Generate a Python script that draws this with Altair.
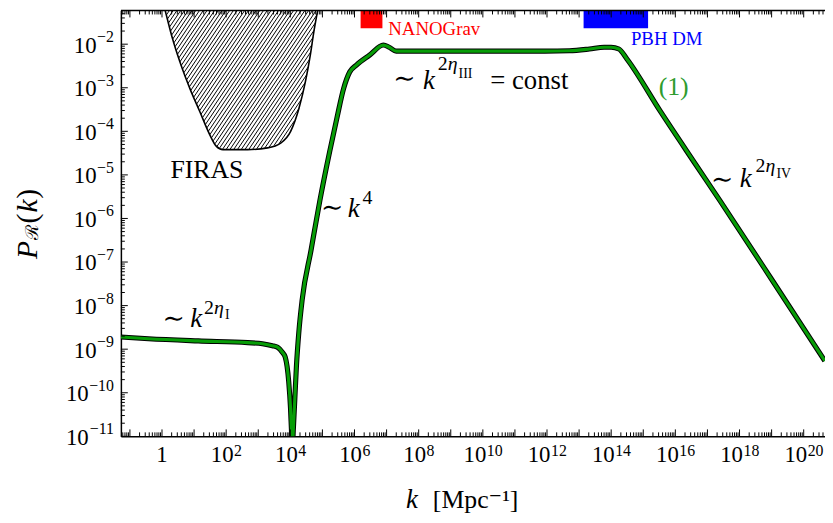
import numpy as np
import pandas as pd
import altair as alt

# ---------------- axis ranges (log10 units) ----------------
LK_MIN, LK_MAX = -1.281, 20.664
LP_MIN, LP_MAX = -11.0, -1.227
W, H = 711, 430

# ---------------- curve (1): log10 k, log10 P_R ----------------
curve_lk = [-1.28, -0.42, 1.13, 2.67, 3.13, 3.44, 3.60, 3.75, 3.84, 3.95, 4.006, 4.037,
            4.065, 4.09, 4.14, 4.19, 4.265, 4.37, 4.645, 4.92, 5.23, 5.45, 5.66, 5.85,
            6.06, 6.47, 6.90, 7.08, 7.30, 8.84, 10.39, 11.93, 12.70, 13.32, 13.78, 14.0,
            14.24, 14.49, 15.54, 16.56, 17.39, 19.03, 20.66]
curve_lp = [-8.72, -8.76, -8.81, -8.85, -8.875, -8.92, -8.955, -9.07, -9.18, -9.75, -10.36, -10.89,
            -11.27, -10.89, -10.14, -9.39, -8.61, -7.86, -6.73, -5.59, -4.45, -3.70, -3.02, -2.64,
            -2.48, -2.25, -2.02, -2.07, -2.16, -2.16, -2.16, -2.16, -2.15, -2.11, -2.07, -2.07,
            -2.11, -2.34, -3.55, -4.68, -5.59, -7.43, -9.27]

# ---------------- FIRAS exclusion boundary ----------------
firas_lk = [0.02, 0.10, 0.30, 0.56, 0.87, 1.18, 1.49, 1.69, 1.90, 2.67, 3.29, 3.70, 4.01,
            4.27, 4.47, 4.62, 4.73, 4.85, 4.905]
firas_lp = [-1.0, -1.23, -1.80, -2.41, -3.02, -3.55, -4.08, -4.34, -4.42, -4.42, -4.38, -4.27,
            -4.0, -3.47, -2.86, -2.26, -1.73, -1.23, -1.0]

# ---------------- bands at top ----------------
band_name = ["NANOGrav", "PBH DM"]
band_lk1 = [6.19, 13.14]
band_lk2 = [6.87, 15.15]
band_lp_bottom = [-1.636, -1.636]
band_color = ["#ff0000", "#0000ff"]

# ---------------- tick labels (exponents of 10) ----------------
x_label_exp = list(range(0, 21, 2))
y_label_exp = list(range(-11, -1))

# ---------------- annotations: text, log10 k, log10 P, size, color, italic, angle ----------------
ann = [
    ("∼", 7.207, -2.977, 27, "black", False, 0),
    ("k", 8.133, -3.023, 27, "black", True, 0),
    ("2", 8.596, -2.591, 20, "black", False, 0),
    ("η", 8.904, -2.591, 20, "black", True, 0),
    ("III", 9.244, -2.773, 14, "black", False, 0),
    ("= const", 10.231, -3.023, 27, "black", False, 0),
    ("∼", 4.954, -5.932, 27, "black", False, 0),
    ("k", 5.786, -5.955, 27, "black", True, 0),
    ("4", 6.249, -5.659, 20, "black", False, 0),
    ("∼", 0.015, -8.50, 27, "black", False, 0),
    ("k", 0.88, -8.50, 27, "black", True, 0),
    ("2", 1.312, -8.182, 20, "black", False, 0),
    ("η", 1.62, -8.182, 20, "black", True, 0),
    ("I", 1.96, -8.318, 14, "black", False, 0),
    ("∼", 17.11, -5.295, 27, "black", False, 0),
    ("k", 18.01, -5.273, 27, "black", True, 0),
    ("2", 18.50, -4.932, 20, "black", False, 0),
    ("η", 18.81, -4.932, 20, "black", True, 0),
    ("IV", 19.15, -5.068, 14, "black", False, 0),
    ("(1)", 15.48, -3.17, 26, "#2e9c2e", False, 0),
    ("FIRAS", 0.262, -5.068, 26, "black", False, 0),
    ("NANOGrav", 7.052, -1.795, 19, "#ff0000", False, 0),
    ("PBH DM", 14.614, -2.023, 19, "#0000ff", False, 0),
    ("k", 7.608, -12.64, 27, "black", True, 0),
    ("[Mpc⁻¹]", 8.441, -12.64, 26, "black", False, 0),
    ("P", -3.904, -6.932, 30, "black", True, 270),
    ("ℛ", -3.85, -6.50, 18, "black", False, 270),
    ("(", -3.904, -6.114, 30, "black", False, 270),
    ("k", -3.904, -5.864, 30, "black", True, 270),
    (")", -3.904, -5.545, 30, "black", False, 270),
]

FONT = "Liberation Serif, 'DejaVu Serif', serif"
LAB = 23      # tick label size
EXP = 16      # exponent size

# ---------------- data frames ----------------
curve_df = pd.DataFrame({"k": 10.0 ** np.array(curve_lk), "P": 10.0 ** np.array(curve_lp)})
firas_df = pd.DataFrame({"k": 10.0 ** np.array(firas_lk), "P": 10.0 ** np.array(firas_lp)})
band_df = pd.DataFrame({
    "name": band_name,
    "k": 10.0 ** np.array(band_lk1), "k2": 10.0 ** np.array(band_lk2),
    "P": 10.0 ** np.array(band_lp_bottom), "P2": [0.2, 0.2], "color": band_color,
})
ann_df = pd.DataFrame(ann, columns=["text", "lk", "lp", "size", "color", "italic", "angle"])
ann_df["k"] = 10.0 ** ann_df["lk"]
ann_df["P"] = 10.0 ** ann_df["lp"]

# hatch lines inside FIRAS region (decoration)
Xb = (np.array(firas_lk) - LK_MIN) / (LK_MAX - LK_MIN) * W
Yb = (np.array(firas_lp) - LP_MIN) / (LP_MAX - LP_MIN) * H
Xg = np.linspace(Xb[0], Xb[-1], 4000)
fg = np.interp(Xg, Xb, Yb)
tn = np.tan(np.radians(56))
segs = []
c = Xb[0] - (H + 5) / tn - 5
while c < Xb[-1] + 5:
    Yl = tn * (Xg - c)
    inside = (Yl >= fg) & (Yl <= H + 3)
    if inside.any():
        idx = np.where(inside)[0]
        xa, xb = Xg[idx[0]], Xg[idx[-1]]
        segs.append((xa, tn * (xa - c), xb, tn * (xb - c)))
    c += 3.8
segs = np.array(segs)


def px2k(Xp):
    return 10.0 ** (LK_MIN + Xp / W * (LK_MAX - LK_MIN))


def py2p(Yp):
    return 10.0 ** (LP_MIN + Yp / H * (LP_MAX - LP_MIN))


hatch_df = pd.DataFrame({"k": px2k(segs[:, 0]), "P": py2p(segs[:, 1]),
                         "k2": px2k(segs[:, 2]), "P2": py2p(segs[:, 3])})

# tick positions (log minor ticks)
xt_major, xt_minor, yt_major, yt_minor = [], [], [], []
for e in range(-2, 22):
    for m in range(1, 10):
        v = m * 10.0 ** e
        if LK_MIN <= np.log10(v) <= LK_MAX:
            (xt_major if m == 1 else xt_minor).append(v)
for e in range(-12, 0):
    for m in range(1, 10):
        v = m * 10.0 ** e
        if LP_MIN - 1e-9 <= np.log10(v) <= LP_MAX:
            (yt_major if m == 1 else yt_minor).append(v)

# ---------------- scales & axes ----------------
xscale = alt.Scale(type="log", domain=[10 ** LK_MIN, 10 ** LK_MAX], nice=False)
yscale = alt.Scale(type="log", domain=[10 ** LP_MIN, 10 ** LP_MAX], nice=False)

xaxis = alt.Axis(labels=False, ticks=False, grid=False, title=None, domain=True,
                 domainColor="black", domainWidth=1.5)
yaxis = alt.Axis(labels=False, ticks=False, grid=False, title=None, domain=True,
                 domainColor="black", domainWidth=1.5)

X = alt.X("k:Q", scale=xscale, axis=xaxis)
Y = alt.Y("P:Q", scale=yscale, axis=yaxis)

base_curve = alt.Chart(curve_df)
curve_black = base_curve.mark_line(color="black", strokeWidth=5.2, interpolate="monotone",
                                   clip=True).encode(x=X, y=Y)
curve_green = base_curve.mark_line(color="#079d07", strokeWidth=3.2, interpolate="monotone",
                                   clip=True).encode(x=X, y=Y)

hatch = alt.Chart(hatch_df).mark_rule(color="black", strokeWidth=1.0, clip=True).encode(
    x=X, y=Y, x2="k2:Q", y2="P2:Q")
firas_line = alt.Chart(firas_df).mark_line(color="black", strokeWidth=1.6,
                                           interpolate="monotone", clip=True).encode(x=X, y=Y)

bands = alt.Chart(band_df).mark_rect(clip=True).encode(
    x=X, x2="k2:Q", y=Y, y2="P2:Q", color=alt.Color("color:N", scale=None))


# inward ticks
def xticks(vals, length, top):
    df = pd.DataFrame({"k": vals})
    if top:
        return alt.Chart(df).mark_rule(color="black", strokeWidth=1).encode(
            x=X, y=alt.value(0), y2=alt.value(length))
    return alt.Chart(df).mark_rule(color="black", strokeWidth=1).encode(
        x=X, y=alt.value(H), y2=alt.value(H - length))


def yticks(vals, length):
    df = pd.DataFrame({"P": vals})
    return alt.Chart(df).mark_rule(color="black", strokeWidth=1).encode(
        y=Y, x=alt.value(0), x2=alt.value(length))


ticks = [xticks(xt_major, 7, False), xticks(xt_minor, 4, False),
         xticks(xt_major, 7, True), xticks(xt_minor, 4, True),
         yticks(yt_major, 7), yticks(yt_minor, 4)]

top_spine = alt.Chart(pd.DataFrame({"k": [1.0]})).mark_rule(color="black", strokeWidth=1.5).encode(
    x=alt.value(0), x2=alt.value(W), y=alt.value(0))

# ---------------- tick labels as "10" + superscript exponent ----------------
SUPMINUS = "−"


def xlab_layers():
    layers = []
    one = pd.DataFrame({"k": [1.0], "t": ["1"]})
    layers.append(alt.Chart(one).mark_text(align="center", baseline="alphabetic", font=FONT,
                                           fontSize=LAB, color="black").encode(
        x=X, y=alt.value(H + 26), text="t:N"))
    for ndig in (1, 2):
        exps = [e for e in x_label_exp if e > 0 and len(str(e)) == ndig]
        df = pd.DataFrame({"k": [10.0 ** e for e in exps], "b": ["10"] * len(exps),
                           "e": [str(e) for e in exps]})
        w_e = ndig * 0.5 * EXP
        a = (LAB - w_e) / 2.0
        layers.append(alt.Chart(df).mark_text(align="right", baseline="alphabetic", font=FONT,
                                              fontSize=LAB, color="black", dx=a).encode(
            x=X, y=alt.value(H + 26), text="b:N"))
        layers.append(alt.Chart(df).mark_text(align="left", baseline="alphabetic", font=FONT,
                                              fontSize=EXP, color="black", dx=a + 0.5).encode(
            x=X, y=alt.value(H + 20), text="e:N"))
    return layers


def ylab_layers():
    layers = []
    for ndig in (1, 2):
        exps = [e for e in y_label_exp if len(str(-e)) == ndig]
        df = pd.DataFrame({"P": [10.0 ** e for e in exps], "b": ["10"] * len(exps),
                           "e": [SUPMINUS + str(-e) for e in exps]})
        w_e = 0.564 * EXP + ndig * 0.5 * EXP
        layers.append(alt.Chart(df).mark_text(align="right", baseline="alphabetic", font=FONT,
                                              fontSize=EXP, color="black", dy=-2).encode(
            x=alt.value(-7), y=Y, text="e:N"))
        layers.append(alt.Chart(df).mark_text(align="right", baseline="alphabetic", font=FONT,
                                              fontSize=LAB, color="black", dy=8.5).encode(
            x=alt.value(-7 - w_e - 0.5), y=Y, text="b:N"))
    return layers


def text_layer(df, italic, angle):
    sub = df[(df["italic"] == italic) & (df["angle"] == angle)]
    kw = dict(align="left", baseline="alphabetic", font=FONT)
    if italic:
        kw["fontStyle"] = "italic"
    if angle:
        kw["angle"] = angle
    return alt.Chart(sub).mark_text(**kw).encode(
        x=X, y=Y, text="text:N",
        size=alt.Size("size:Q", scale=None),
        color=alt.Color("color:N", scale=None))


texts = [text_layer(ann_df, False, 0), text_layer(ann_df, True, 0),
         text_layer(ann_df, False, 270), text_layer(ann_df, True, 270)]

chart = alt.layer(
    hatch, firas_line, bands, curve_black, curve_green, *ticks, top_spine,
    *xlab_layers(), *ylab_layers(), *texts
).properties(
    width=W, height=H,
    padding={"left": 114, "top": 0, "right": 0, "bottom": 85},
    autosize="none",
    background="white",
).configure_view(stroke=None)

chart.save("out.html", embed_options={"renderer": "svg", "actions": False})
